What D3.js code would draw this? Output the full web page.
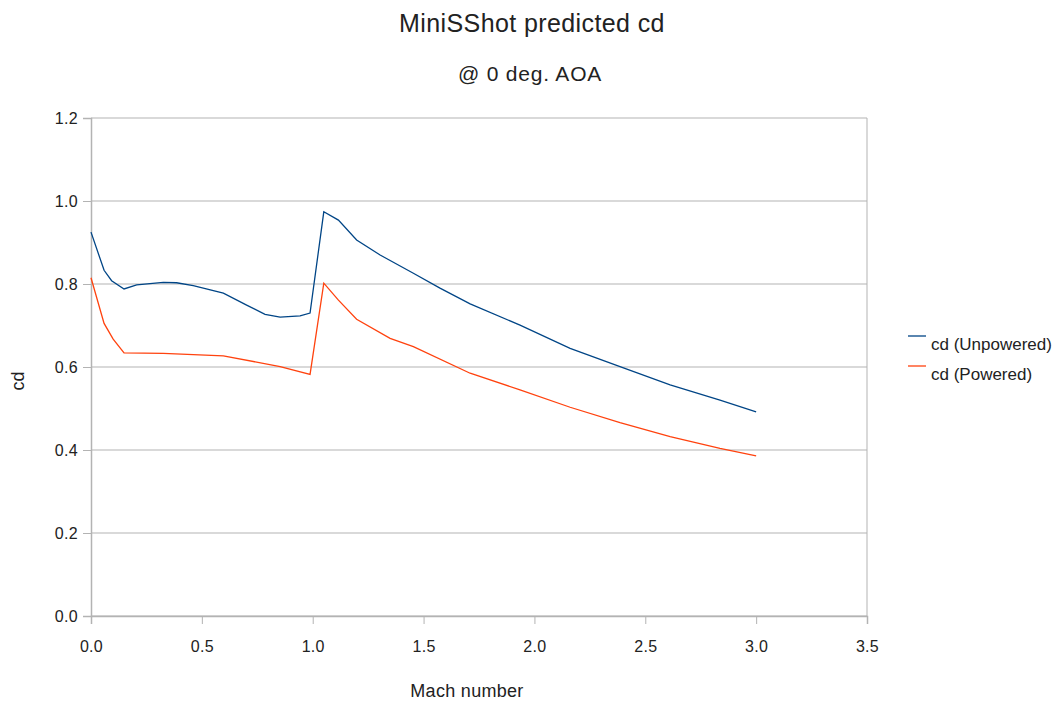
<!DOCTYPE html>
<html>
<head>
<meta charset="utf-8">
<script src="https://cdn.jsdelivr.net/npm/d3@7"></script>
<style>
  body { margin: 0; background: #fff; }
  svg { font-family: "Liberation Sans", Arial, sans-serif; }
</style>
</head>
<body>
<div id="container"></div>
<script>
const title = "MiniSShot predicted cd";
const subtitle = "@ 0 deg. AOA";
const xLabel = "Mach number";
const yLabel = "cd";

const seriesNames = ["cd (Unpowered)", "cd (Powered)"];

// Mach values
const machUnpowered = [0, 0.059, 0.093, 0.149, 0.206, 0.326, 0.386, 0.461, 0.597, 0.702, 0.785, 0.853, 0.943, 0.988, 1.05, 1.116, 1.198, 1.304, 1.454, 1.574, 1.71, 1.935, 2.161, 2.386, 2.612, 2.837, 3.0];
const cdUnpowered = [0.925, 0.833, 0.808, 0.788, 0.798, 0.804, 0.803, 0.796, 0.778, 0.749, 0.727, 0.72, 0.723, 0.73, 0.974, 0.954, 0.906, 0.87, 0.826, 0.79, 0.752, 0.701, 0.645, 0.601, 0.557, 0.52, 0.492];

const machPowered = [0, 0.059, 0.1, 0.149, 0.326, 0.597, 0.853, 0.988, 1.05, 1.116, 1.198, 1.349, 1.454, 1.71, 1.935, 2.161, 2.386, 2.612, 2.837, 3.0];
const cdPowered = [0.815, 0.705, 0.667, 0.634, 0.633, 0.627, 0.601, 0.582, 0.802, 0.761, 0.715, 0.669, 0.649, 0.585, 0.545, 0.503, 0.466, 0.432, 0.404, 0.386];

const xTicks = [0, 0.5, 1, 1.5, 2, 2.5, 3, 3.5];
const yTicks = [0, 0.2, 0.4, 0.6, 0.8, 1.0, 1.2];

const colors = ["#004586", "#ff420e"];

const width = 1055, height = 704;
const margin = { top: 118, right: 188, bottom: 88, left: 91 };
const plotW = width - margin.left - margin.right;
const plotH = height - margin.top - margin.bottom;

const svg = d3.select("#container")
  .append("svg")
  .attr("width", width)
  .attr("height", height);

const x = d3.scaleLinear().domain([0, 3.5]).range([0, plotW]);
const y = d3.scaleLinear().domain([0, 1.2]).range([plotH, 0]);

const g = svg.append("g")
  .attr("transform", `translate(${margin.left}, ${margin.top})`);

// gridlines
g.append("g")
  .selectAll("line")
  .data(yTicks)
  .enter()
  .append("line")
  .attr("x1", 0)
  .attr("x2", plotW)
  .attr("y1", (d) => y(d))
  .attr("y2", (d) => y(d))
  .attr("stroke", "#b3b3b3")
  .attr("stroke-width", 1);

// right border of plot area
g.append("line")
  .attr("x1", plotW).attr("x2", plotW)
  .attr("y1", 0).attr("y2", plotH)
  .attr("stroke", "#b3b3b3");

// axes
const xAxis = g.append("g")
  .attr("transform", `translate(0, ${plotH})`)
  .call(d3.axisBottom(x).tickValues(xTicks).tickFormat(d3.format(".1f")).tickSize(8).tickPadding(17));

const yAxis = g.append("g")
  .call(d3.axisLeft(y).tickValues(yTicks).tickFormat(d3.format(".1f")).tickSize(8).tickPadding(5));

[xAxis, yAxis].forEach((a) => {
  a.select(".domain").attr("stroke", "#b3b3b3").attr("stroke-width", 1.5);
  a.selectAll(".tick line").attr("stroke", "#b3b3b3");
  a.selectAll(".tick text")
    .attr("fill", "#222")
    .style("font-size", "16px")
    .style("letter-spacing", "0.3px")
    .style("font-family", "'Liberation Sans', Arial, sans-serif");
});

// lines
const series = [
  { name: seriesNames[0], xs: machUnpowered, ys: cdUnpowered },
  { name: seriesNames[1], xs: machPowered, ys: cdPowered }
];

const line = d3.line()
  .x((d) => x(d[0]))
  .y((d) => y(d[1]));

series.forEach((s, i) => {
  g.append("path")
    .datum(s.xs.map((v, j) => [v, s.ys[j]]))
    .attr("fill", "none")
    .attr("stroke", colors[i])
    .attr("stroke-width", 1.3)
    .attr("d", line);
});

// titles
svg.append("text")
  .attr("x", 532)
  .attr("y", 32)
  .attr("text-anchor", "middle")
  .style("font-size", "25px")
  .style("letter-spacing", "0.4px")
  .attr("fill", "#222")
  .text(title);

svg.append("text")
  .attr("x", 530)
  .attr("y", 81)
  .attr("text-anchor", "middle")
  .style("font-size", "21px")
  .style("letter-spacing", "0.8px")
  .attr("fill", "#222")
  .text(subtitle);

svg.append("text")
  .attr("x", 467)
  .attr("y", 697)
  .attr("text-anchor", "middle")
  .style("font-size", "18px")
  .style("letter-spacing", "0.3px")
  .attr("fill", "#222")
  .text(xLabel);

svg.append("text")
  .attr("transform", "translate(24, 381) rotate(-90)")
  .attr("text-anchor", "middle")
  .style("font-size", "18px")
  .attr("fill", "#222")
  .text(yLabel);

// legend
const legend = svg.append("g")
  .selectAll("g")
  .data(seriesNames)
  .enter()
  .append("g")
  .attr("transform", (d, i) => `translate(908, ${336 + 30 * i})`);

legend.append("line")
  .attr("x1", 0).attr("x2", 18)
  .attr("y1", 0).attr("y2", 0)
  .attr("stroke", (d, i) => colors[i])
  .attr("stroke-width", 1.3);

legend.append("text")
  .attr("x", 23)
  .attr("y", 14)
  .style("font-size", "17px")
  .attr("fill", "#222")
  .text((d) => d);
</script>
</body>
</html>
